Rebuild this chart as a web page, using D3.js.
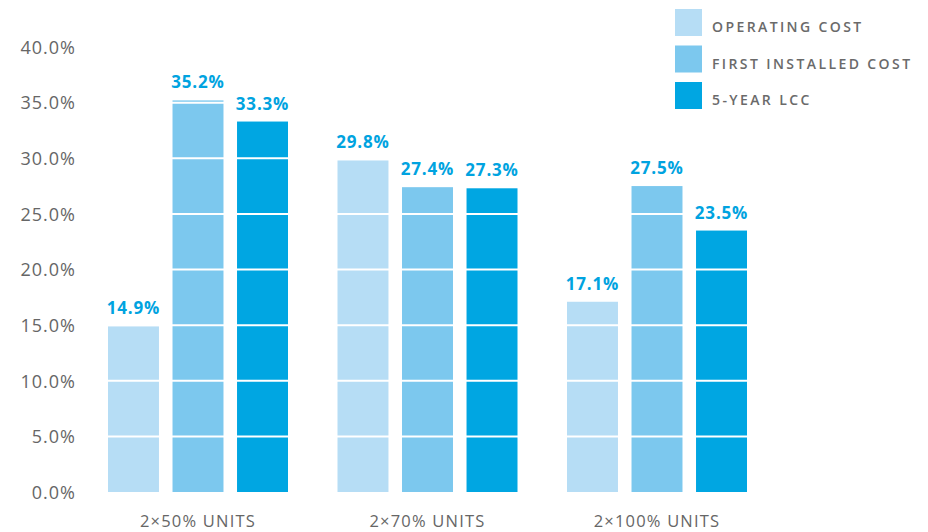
<!DOCTYPE html>
<html>
<head>
<meta charset="utf-8">
<script src="https://cdn.jsdelivr.net/npm/d3@7"></script>
<style>
  body { margin: 0; background: #fff; }
  text { font-family: "Open Sans", Lato, sans-serif; }
</style>
</head>
<body>
<div id="container"></div>
<script>
// chart data
var groups = ["2×50% UNITS", "2×70% UNITS", "2×100% UNITS"];
var series = ["OPERATING COST", "FIRST INSTALLED COST", "5-YEAR LCC"];
var operatingCost = [14.9, 29.8, 17.1];
var firstInstalled = [35.2, 27.4, 27.5];
var lcc5Year = [33.3, 27.3, 23.5];
var yTicks = [0, 5, 10, 15, 20, 25, 30, 35, 40];

var colors = ["#b6ddf5", "#7cc8ee", "#00a6e2"];
var width = 928, height = 532;

var svg = d3.select("#container").append("svg")
	.attr("width", width)
	.attr("height", height);

var y = d3.scaleLinear().domain([0, 40]).range([492, 47]);

var x0 = d3.scalePoint().domain(groups).range([198, 657]);
var x1 = d3.scaleBand().domain(series).range([-90, 90]).paddingInner(0.21);

var rows = [];
groups.forEach(function(g, i) {
	rows.push({group: g, key: series[0], value: operatingCost[i], c: colors[0]});
	rows.push({group: g, key: series[1], value: firstInstalled[i], c: colors[1]});
	rows.push({group: g, key: series[2], value: lcc5Year[i], c: colors[2]});
});

// y axis labels
var yAxis = d3.axisLeft(y).tickValues(yTicks)
	.tickFormat(function(d) { return d.toFixed(1) + "%"; })
	.tickSize(0).tickPadding(0);
var ga = svg.append("g").attr("transform", "translate(76,0)").call(yAxis);
ga.select(".domain").remove();
ga.selectAll("text")
	.attr("fill", "#666")
	.style("font-size", "18px")
	.style("letter-spacing", "1px")
	.style("font-family", "'Open Sans', sans-serif")
	.attr("dy", "0.35em");

// bars
svg.selectAll(".bar")
	.data(rows).enter()
	.append("rect")
		.attr("class", "bar")
		.attr("x", function(d) { return x0(d.group) + x1(d.key); })
		.attr("width", x1.bandwidth())
		.attr("y", function(d) { return y(d.value); })
		.attr("height", function(d) { return y(0) - y(d.value); })
		.attr("fill", function(d) { return d.c; });

// white grid lines over the bars
svg.selectAll(".grid")
	.data(yTicks.slice(1)).enter()
	.append("line")
		.attr("x1", 95).attr("x2", 760)
		.attr("y1", function(d) { return y(d); })
		.attr("y2", function(d) { return y(d); })
		.attr("stroke", "#fff")
		.attr("stroke-width", 2);

// value labels
svg.selectAll(".val")
	.data(rows).enter()
	.append("text")
		.attr("x", function(d) { return x0(d.group) + x1(d.key) + x1.bandwidth() / 2; })
		.attr("y", function(d) { return y(d.value) - 12; })
		.attr("text-anchor", "middle")
		.attr("fill", "#00a3e0")
		.style("font-size", "17px")
		.style("font-weight", "bold")
		.style("letter-spacing", "0.8px")
		.text(function(d) { return d.value.toFixed(1) + "%"; });

// group labels
svg.selectAll(".glabel")
	.data(groups).enter()
	.append("text")
		.attr("x", function(d) { return x0(d); })
		.attr("y", 527)
		.attr("text-anchor", "middle")
		.attr("fill", "#666")
		.style("font-size", "16.5px")
		.style("letter-spacing", "1.2px")
		.text(function(d) { return d; });

// legend
var legend = svg.selectAll(".legend")
	.data(series).enter()
	.append("g")
		.attr("transform", function(d, i) { return "translate(675," + (9 + i * 36.5) + ")"; });

legend.append("rect")
	.attr("width", 27).attr("height", 27)
	.attr("fill", function(d, i) { return colors[i]; });

legend.append("text")
	.attr("x", 37).attr("y", 23)
	.attr("fill", "#6a6a6a")
	.style("font-size", "14px")
	.style("font-weight", "600")
	.style("letter-spacing", "2.4px")
	.text(function(d) { return d; });
</script>
</body>
</html>
